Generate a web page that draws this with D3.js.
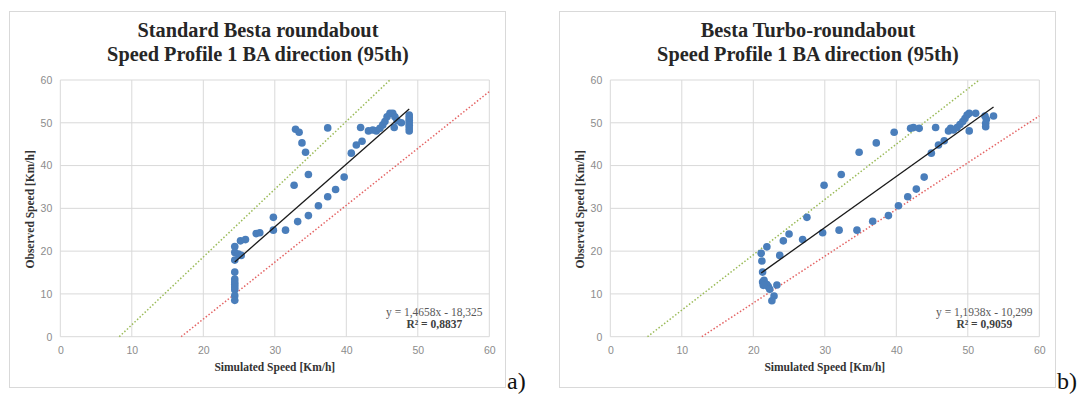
<!DOCTYPE html>
<html>
<head>
<meta charset="utf-8">
<script src="https://cdn.jsdelivr.net/npm/d3@7"></script>
<style>
  html, body { margin: 0; padding: 0; background: #ffffff; }
  svg { display: block; }
</style>
</head>
<body>
<svg id="fig" width="1079" height="396"></svg>
<script>
// ---- data: standard roundabout (panel a) ----
const leftTitle = ["Standard Besta roundabout", "Speed Profile 1 BA direction (95th)"];
const leftSimulated = [24.4, 24.4, 24.9, 25.3, 24.4, 24.4, 24.4, 24.4, 24.4, 24.4, 24.4, 24.4, 24.4,
  25.2, 25.9, 27.4, 27.9, 29.8, 29.8, 31.5, 32.7, 32.9, 33.4, 33.8, 34.3, 33.2, 34.7, 34.7, 36.1,
  37.4, 37.4, 38.5, 39.7, 40.7, 41.4, 42.2, 42.0, 43.1, 43.7, 44.2, 44.7, 45.1, 45.4, 45.7, 46.1,
  46.5, 46.8, 46.7, 47.1, 47.7, 48.8, 48.8, 48.8, 48.8, 48.8, 48.8, 48.8];
const leftObserved = [21.1, 19.7, 19.3, 19.0, 17.9, 15.1, 13.5, 12.8, 12.2, 11.6, 11.0, 9.6, 8.5,
  22.4, 22.7, 24.1, 24.3, 27.9, 24.9, 24.9, 35.4, 48.5, 47.8, 45.3, 43.1, 26.9, 37.9, 28.3, 30.6,
  48.8, 32.7, 34.4, 37.3, 42.9, 44.8, 45.7, 48.9, 48.1, 48.3, 48.1, 48.7, 49.5, 50.3, 51.4, 52.2,
  52.2, 51.4, 48.9, 50.5, 50.0, 51.8, 51.2, 50.6, 50.0, 49.4, 48.8, 48.1];
const leftTrend = { slope: 1.4658, intercept: -18.325, r2: "0,8837", label: "y = 1,4658x - 18,325" };
const leftUpperBand = [[8.25, 0], [46.1, 60]];
const leftLowerBand = [[16.9, 0], [60, 57.3]];

// ---- data: turbo-roundabout (panel b) ----
const rightTitle = ["Besta Turbo-roundabout", "Speed Profile 1 BA direction (95th)"];
const rightSimulated = [21.1, 21.9, 21.2, 21.3, 21.3, 21.5, 21.6, 21.9, 22.1, 22.3, 21.4, 23.3, 22.9,
  22.6, 23.7, 24.2, 25.0, 26.9, 27.5, 29.7, 29.9, 32.0, 32.3, 34.5, 34.8, 36.7, 37.2, 38.9, 39.7,
  40.3, 41.6, 42.0, 42.4, 43.2, 42.8, 43.9, 44.9, 45.5, 45.9, 46.7, 47.3, 47.6, 48.0, 48.5, 48.9,
  49.3, 49.6, 49.9, 50.2, 50.2, 51.1, 52.4, 52.6, 52.5, 52.5, 53.6];
const rightObserved = [19.5, 21.0, 17.7, 15.1, 12.8, 13.2, 12.4, 12.2, 11.7, 11.1, 12.0, 12.1, 9.5,
  8.4, 19.0, 22.4, 24.0, 22.7, 27.9, 24.3, 35.4, 24.9, 37.9, 24.9, 43.1, 27.0, 45.3, 28.3, 47.8,
  30.6, 32.7, 48.7, 48.9, 48.7, 34.5, 37.3, 42.9, 48.9, 44.8, 45.8, 48.1, 48.7, 48.3, 48.9, 49.6,
  50.3, 51.0, 51.8, 52.2, 48.1, 52.2, 51.6, 50.8, 49.9, 49.1, 51.6];
const rightTrend = { slope: 1.1938, intercept: -10.299, r2: "0,9059", label: "y = 1,1938x - 10,299" };
const rightUpperBand = [[5.2, 0], [51.6, 60]];
const rightLowerBand = [[12.8, 0], [60, 51.6]];

// ---- shared axes ----
const axisTicks = [0, 10, 20, 30, 40, 50, 60];
const xTitle = "Simulated Speed [Km/h]";
const yTitle = "Observed Speed [Km/h]";

const svg = d3.select("#fig");

const SERIF = "'Liberation Serif', 'Times New Roman', serif";
const SANS = "'Liberation Sans', Arial, sans-serif";

function drawPanel(offsetX, cfg) {
  const g = svg.append("g").attr("transform", `translate(${offsetX},0)`);

  // chart frame
  const frame = { x0: 9, y0: 11, x1: 505, y1: 387 };
  g.append("rect")
    .attr("x", frame.x0 + 0.5).attr("y", frame.y0 + 0.5)
    .attr("width", frame.x1 - frame.x0).attr("height", frame.y1 - frame.y0)
    .attr("fill", "#fff").attr("stroke", "#d9d9d9").attr("stroke-width", 1);

  const plot = { left: 60.3, right: 489.3, top: 80, bottom: 336.7 };
  const x = d3.scaleLinear().domain([0, 60]).range([plot.left, plot.right]);
  const y = d3.scaleLinear().domain([0, 60]).range([plot.bottom, plot.top]);

  // gridlines
  const grid = g.append("g").attr("stroke", "#d9d9d9").attr("stroke-width", 1);
  axisTicks.forEach(t => {
    grid.append("line").attr("x1", x(t)).attr("x2", x(t)).attr("y1", y(0)).attr("y2", y(60));
    grid.append("line").attr("x1", x(0)).attr("x2", x(60)).attr("y1", y(t)).attr("y2", y(t));
  });

  // tick labels
  const xAxis = g.append("g").attr("transform", `translate(0,${plot.bottom})`)
    .call(d3.axisBottom(x).tickValues(axisTicks).tickSize(0).tickPadding(10));
  const yAxis = g.append("g").attr("transform", `translate(${plot.left},0)`)
    .call(d3.axisLeft(y).tickValues(axisTicks).tickSize(0).tickPadding(8));
  [xAxis, yAxis].forEach(a => {
    a.select(".domain").remove();
    a.selectAll("text").attr("fill", "#8c8c8c").style("font-family", SANS).style("font-size", "10.5px");
  });

  // dotted reference bands
  const line = d3.line().x(d => x(d[0])).y(d => y(d[1]));
  g.append("path").attr("d", line(cfg.upper)).attr("fill", "none")
    .attr("stroke", "#9bbb59").attr("stroke-width", 1.5).attr("stroke-dasharray", "1.5 2");
  g.append("path").attr("d", line(cfg.lower)).attr("fill", "none")
    .attr("stroke", "#e46464").attr("stroke-width", 1.5).attr("stroke-dasharray", "1.5 2");

  // points
  const pts = cfg.sim.map((s, i) => [s, cfg.obs[i]]);
  g.append("g").selectAll("circle").data(pts).join("circle")
    .attr("cx", d => x(d[0])).attr("cy", d => y(d[1])).attr("r", 3.8)
    .attr("fill", "#4a7ebb");

  // linear trendline over the simulated range
  const [xmin, xmax] = d3.extent(cfg.sim);
  const f = v => cfg.trend.slope * v + cfg.trend.intercept;
  g.append("path").attr("d", line([[xmin, f(xmin)], [xmax, f(xmax)]]))
    .attr("fill", "none").attr("stroke", "#1a1a1a").attr("stroke-width", 1.3);

  // regression label
  const eqX = plot.right - 55;
  g.append("text").attr("x", eqX).attr("y", 316).attr("text-anchor", "middle")
    .style("font-family", SERIF).style("font-size", "11.5px").attr("fill", "#595959")
    .text(cfg.trend.label);
  g.append("text").attr("x", eqX).attr("y", 328).attr("text-anchor", "middle")
    .style("font-family", SERIF).style("font-size", "11.5px").style("font-weight", "bold").attr("fill", "#404040")
    .text("R² = " + cfg.trend.r2);

  // title
  const cx = (frame.x0 + frame.x1) / 2 + 1;
  cfg.title.forEach((t, i) => {
    g.append("text").attr("x", cx).attr("y", 36.5 + i * 24.5).attr("text-anchor", "middle")
      .style("font-family", SERIF).style("font-size", "20.3px").style("font-weight", "bold")
      .attr("fill", "#262626").text(t);
  });

  // axis titles
  g.append("text").attr("x", (plot.left + plot.right) / 2).attr("y", 371).attr("text-anchor", "middle")
    .style("font-family", SERIF).style("font-size", "11.5px").style("font-weight", "bold")
    .attr("fill", "#333").text(xTitle);
  g.append("text")
    .attr("transform", `translate(34,${(plot.top + plot.bottom) / 2 + 1}) rotate(-90)`)
    .attr("text-anchor", "middle")
    .style("font-family", SERIF).style("font-size", "11.5px").style("font-weight", "bold")
    .attr("fill", "#333").text(yTitle);

  // panel letter
  g.append("text").attr("x", frame.x1 + 2).attr("y", 389)
    .style("font-family", SERIF).style("font-size", "24px").attr("fill", "#111")
    .text(cfg.letter);
}

drawPanel(0, { title: leftTitle, sim: leftSimulated, obs: leftObserved, trend: leftTrend,
  upper: leftUpperBand, lower: leftLowerBand, letter: "a)" });
drawPanel(550, { title: rightTitle, sim: rightSimulated, obs: rightObserved, trend: rightTrend,
  upper: rightUpperBand, lower: rightLowerBand, letter: "b)" });
</script>
</body>
</html>
